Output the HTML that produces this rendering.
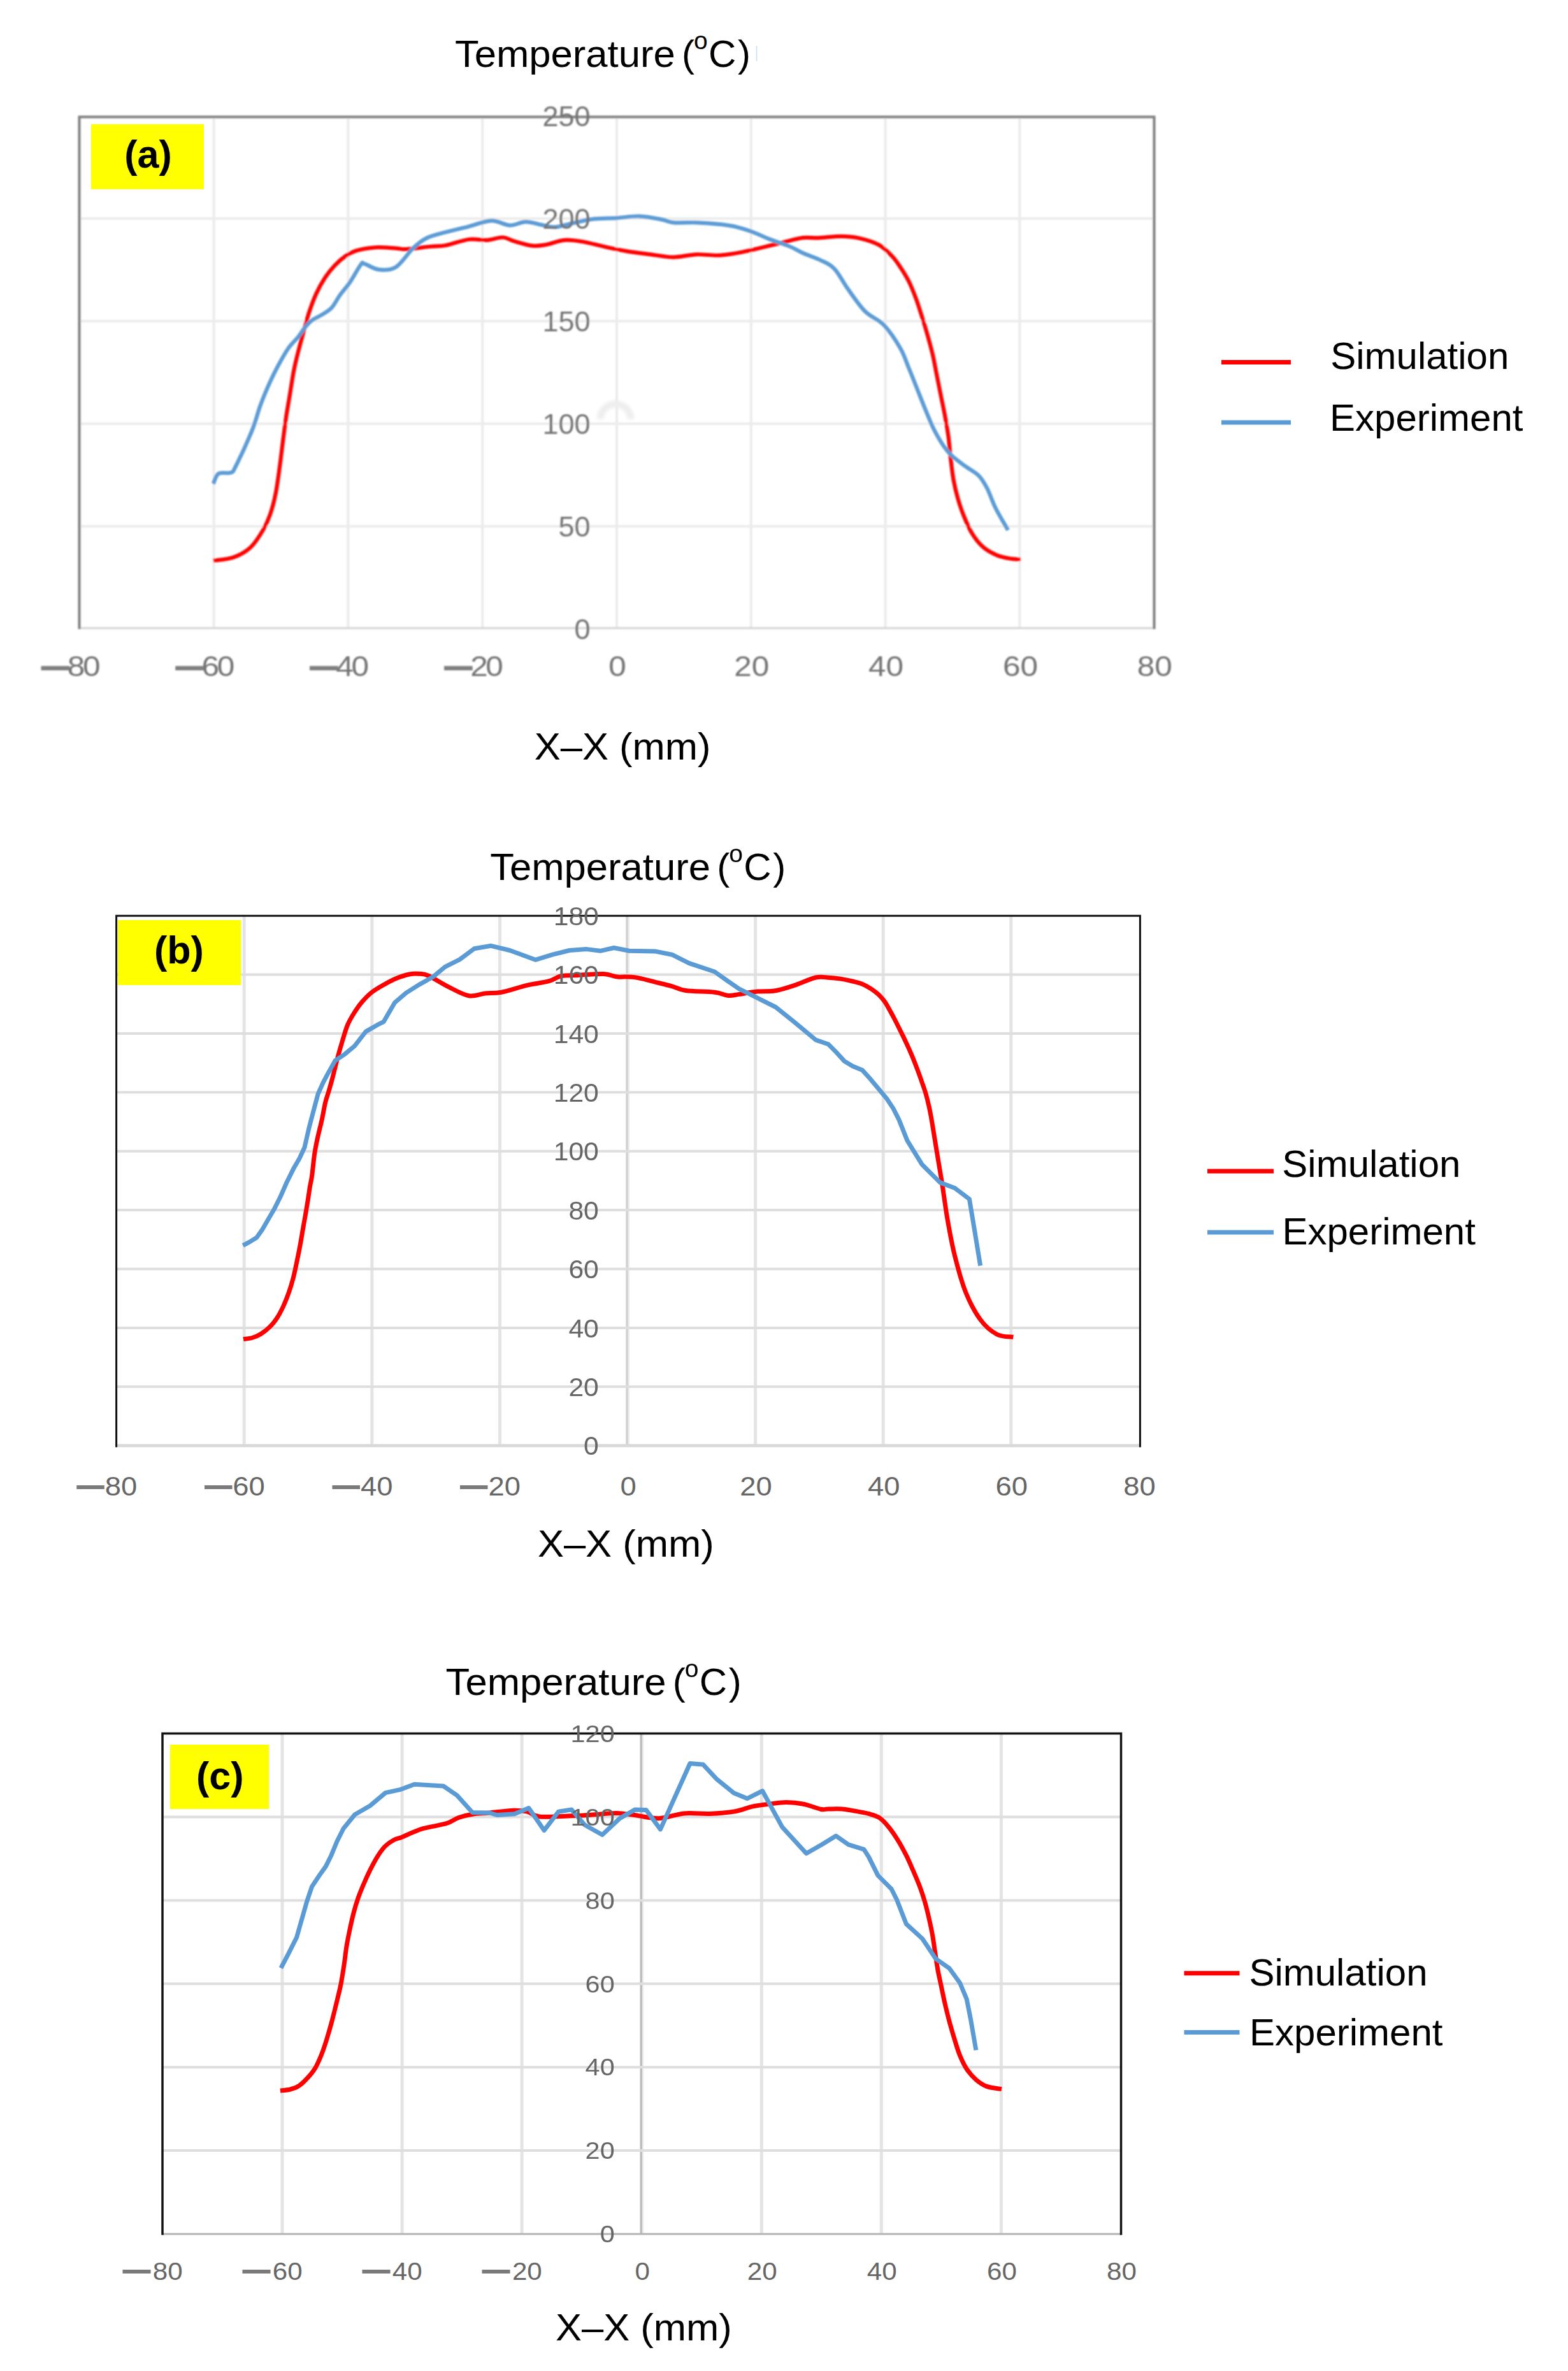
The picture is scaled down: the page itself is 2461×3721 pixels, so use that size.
<!DOCTYPE html>
<html><head><meta charset="utf-8"><title>Temperature profiles: simulation vs experiment</title>
<style>
html,body{margin:0;padding:0;background:#fff;}
body{width:2461px;height:3721px;overflow:hidden;}
svg{display:block;}
</style></head>
<body>
<svg width="2461" height="3721" viewBox="0 0 2461 3721">
<defs><filter id="bl" x="-5%" y="-5%" width="110%" height="110%"><feGaussianBlur stdDeviation="1.0"/></filter><filter id="bl2" x="-50%" y="-50%" width="200%" height="200%"><feGaussianBlur stdDeviation="2.5"/></filter></defs>
<rect width="2461" height="3721" fill="#ffffff"/>
<g filter="url(#bl)">
<path d="M335.6,183.5V985.8M546.4,183.5V985.8M757.2,183.5V985.8M968.0,183.5V985.8M1178.8,183.5V985.8M1389.6,183.5V985.8M1600.4,183.5V985.8" stroke="#ebebeb" stroke-width="4" fill="none"/>
<path d="M124.5,826.0H1811.5M124.5,665.0H1811.5M124.5,504.0H1811.5M124.5,343.0H1811.5" stroke="#ececec" stroke-width="4" fill="none"/>
<path d="M124.5,985.8H1811.5" stroke="#d4d4d4" stroke-width="3" fill="none"/>
<path d="M124.5,987.3V183.5H1811.5V987.3" stroke="#7f7f7f" stroke-width="4" fill="none"/>
<path d="M334.8,879.9 C340.2,879.0 357.2,878.1 367.0,874.5 C376.8,870.9 386.2,865.5 393.8,858.4 C401.4,851.3 407.9,840.3 412.9,831.8 C417.9,823.3 420.6,817.1 423.9,807.6 C427.2,798.1 430.1,787.5 432.6,774.7 C435.2,761.9 437.2,745.5 439.2,730.9 C441.2,716.3 443.0,699.8 444.7,687.0 C446.4,674.2 447.5,665.1 449.1,654.1 C450.8,643.1 452.6,633.2 454.6,621.2 C456.6,609.2 458.9,593.1 461.1,581.8 C463.3,570.5 465.1,563.4 467.7,553.2 C470.3,543.0 473.6,531.0 476.5,520.4 C479.4,509.8 482.0,499.5 485.3,489.6 C488.6,479.7 492.2,469.9 496.2,461.1 C500.2,452.3 504.6,444.3 509.4,437.0 C514.1,429.7 519.2,423.2 524.7,417.3 C530.2,411.4 536.4,405.9 542.3,401.9 C548.1,397.9 552.0,395.5 559.8,393.2 C567.6,390.9 579.0,388.9 589.3,388.3 C599.6,387.7 613.5,389.2 621.5,389.6 C629.5,390.1 628.6,391.4 637.5,391.0 C646.4,390.6 664.6,388.0 675.0,387.0 C685.4,386.0 689.9,386.9 700.0,385.0 C710.1,383.1 725.0,377.1 735.7,375.7 C746.4,374.3 755.4,377.3 764.3,376.8 C773.2,376.3 782.2,372.2 789.3,372.5 C796.4,372.8 799.3,376.4 807.0,378.6 C814.7,380.8 827.4,384.8 835.7,385.7 C844.0,386.6 848.7,385.5 857.0,384.0 C865.3,382.5 876.2,377.6 885.7,376.8 C895.2,376.0 903.6,377.5 914.3,379.3 C925.0,381.1 938.1,384.9 950.0,387.5 C961.9,390.1 973.8,392.6 985.7,394.6 C997.6,396.6 1009.5,397.8 1021.4,399.3 C1033.3,400.8 1045.1,403.6 1057.0,403.6 C1068.9,403.6 1081.0,399.8 1092.9,399.3 C1104.8,398.8 1116.7,401.3 1128.6,400.7 C1140.5,400.1 1152.4,397.9 1164.3,395.7 C1176.2,393.5 1189.3,390.1 1200.0,387.5 C1210.7,384.9 1218.6,382.8 1228.6,380.4 C1238.6,378.0 1250.6,374.4 1260.0,373.2 C1269.4,372.0 1274.9,373.7 1285.0,373.3 C1295.1,372.9 1310.0,370.8 1320.4,370.9 C1330.8,370.9 1337.4,371.4 1347.2,373.6 C1357.0,375.8 1370.5,379.6 1379.3,384.3 C1388.1,389.0 1394.3,396.0 1400.0,401.9 C1405.7,407.8 1408.8,412.9 1413.2,419.5 C1417.6,426.1 1422.3,433.4 1426.3,441.4 C1430.3,449.4 1434.0,458.9 1437.3,467.7 C1440.6,476.5 1443.2,485.0 1446.1,494.1 C1449.0,503.2 1451.9,512.4 1454.8,522.6 C1457.7,532.8 1461.0,544.5 1463.6,555.5 C1466.2,566.5 1468.0,577.4 1470.2,588.4 C1472.4,599.4 1474.6,610.3 1476.8,621.3 C1479.0,632.3 1481.4,643.2 1483.4,654.2 C1485.4,665.2 1487.3,676.1 1488.8,687.1 C1490.2,698.1 1490.8,709.0 1492.1,720.0 C1493.4,731.0 1494.7,742.7 1496.5,752.9 C1498.3,763.1 1500.5,772.3 1503.1,781.4 C1505.7,790.5 1508.2,798.6 1511.9,807.7 C1515.6,816.8 1519.9,827.8 1525.0,836.2 C1530.1,844.6 1536.0,852.4 1542.6,858.2 C1549.2,864.1 1557.2,868.2 1564.5,871.3 C1571.8,874.4 1580.2,875.7 1586.4,876.8 C1592.6,877.9 1599.2,877.7 1601.8,877.9" stroke="#ff0000" stroke-width="6.2" fill="none" stroke-linejoin="round"/>
<path d="M334.8,759.3 C336.1,756.6 338.4,746.2 342.9,743.3 C347.4,740.4 357.2,743.7 361.6,741.9 C366.1,740.1 364.0,743.5 369.6,732.5 C375.2,721.5 388.9,692.0 395.4,676.0 C401.9,660.0 403.8,649.4 408.5,636.6 C413.2,623.8 419.1,609.9 423.9,599.3 C428.6,588.7 432.2,581.8 437.0,573.0 C441.8,564.2 447.3,554.0 452.4,546.7 C457.5,539.4 463.3,534.6 467.7,529.1 C472.1,523.6 475.0,518.2 478.7,513.8 C482.4,509.4 485.2,506.1 489.6,502.8 C494.0,499.5 499.9,497.3 505.0,494.0 C510.1,490.7 515.6,488.2 520.4,483.1 C525.1,478.0 528.8,469.9 533.5,463.3 C538.2,456.7 543.4,451.6 548.9,443.6 C554.4,435.6 562.5,420.0 566.4,415.1 C570.2,410.2 567.3,412.7 572.0,414.0 C576.7,415.3 586.5,422.2 594.7,423.1 C603.0,424.0 612.6,424.7 621.5,419.1 C630.4,413.5 640.3,397.2 648.3,389.6 C656.3,382.0 661.1,377.8 669.7,373.6 C678.3,369.4 689.0,367.3 700.0,364.3 C711.0,361.3 723.8,358.4 735.7,355.4 C747.6,352.4 760.7,346.7 771.4,346.4 C782.1,346.1 791.1,353.3 800.0,353.6 C808.9,353.9 816.7,348.3 825.0,348.2 C833.3,348.1 842.3,351.5 850.0,352.9 C857.7,354.3 863.1,356.9 871.4,356.4 C879.7,355.9 889.9,352.1 900.0,350.0 C910.1,347.9 920.7,344.9 932.0,343.6 C943.3,342.3 956.0,342.8 967.9,342.1 C979.8,341.4 991.7,338.9 1003.6,339.3 C1015.5,339.7 1030.4,342.9 1039.3,344.6 C1048.2,346.3 1048.1,348.5 1057.0,349.3 C1065.9,350.1 1081.0,348.9 1092.9,349.3 C1104.8,349.7 1117.9,350.6 1128.6,351.8 C1139.3,353.0 1148.1,354.3 1157.0,356.4 C1165.9,358.5 1173.7,361.2 1182.0,364.3 C1190.3,367.4 1197.3,371.2 1207.0,375.0 C1216.7,378.8 1230.9,383.2 1240.0,387.0 C1249.1,390.8 1253.4,394.1 1261.4,397.7 C1269.4,401.3 1280.2,404.4 1288.2,408.4 C1296.2,412.4 1302.4,414.2 1309.6,421.8 C1316.8,429.4 1323.0,442.7 1331.1,453.9 C1339.1,465.1 1348.5,479.4 1357.9,488.8 C1367.3,498.2 1378.1,500.5 1387.3,510.2 C1396.5,519.9 1406.7,535.5 1413.2,546.7 C1419.7,557.9 1421.9,566.8 1426.3,577.4 C1430.7,588.0 1435.1,599.3 1439.5,610.3 C1443.9,621.3 1448.2,632.6 1452.6,643.2 C1457.0,653.8 1461.0,664.4 1465.8,673.9 C1470.6,683.4 1476.5,693.2 1481.2,700.2 C1486.0,707.2 1488.8,710.5 1494.3,715.6 C1499.8,720.7 1507.1,725.9 1514.1,731.0 C1521.0,736.1 1530.2,740.4 1536.0,746.3 C1541.8,752.1 1544.8,757.7 1549.2,766.1 C1553.6,774.5 1556.8,785.8 1562.3,796.8 C1567.8,807.8 1578.8,826.0 1582.1,831.9" stroke="#5b9bd5" stroke-width="6.2" fill="none" stroke-linejoin="round"/>
<g font-family="'Liberation Sans', Arial, sans-serif">
<text transform="translate(926.5,1002.6) scale(1.0,1)" font-size="45" text-anchor="end" fill="#737373">0</text>
<text transform="translate(926.5,841.6) scale(1.0,1)" font-size="45" text-anchor="end" fill="#737373">50</text>
<text transform="translate(926.5,680.6) scale(1.0,1)" font-size="45" text-anchor="end" fill="#737373">100</text>
<text transform="translate(926.5,519.6) scale(1.0,1)" font-size="45" text-anchor="end" fill="#737373">150</text>
<text transform="translate(926.5,358.6) scale(1.0,1)" font-size="45" text-anchor="end" fill="#737373">200</text>
<text transform="translate(926.5,197.6) scale(1.0,1)" font-size="45" text-anchor="end" fill="#737373">250</text>
<text transform="translate(154.2,1060.5) scale(1.1,1)" font-size="45" letter-spacing="-3" text-anchor="end" fill="#737373">80</text>
<text x="64.5" y="1073.5" font-size="100" fill="#7f7f7f" textLength="44.7" lengthAdjust="spacingAndGlyphs">—</text>
<text transform="translate(364.9,1060.5) scale(1.1,1)" font-size="45" letter-spacing="-3" text-anchor="end" fill="#737373">60</text>
<text x="275.3" y="1073.5" font-size="100" fill="#7f7f7f" textLength="44.7" lengthAdjust="spacingAndGlyphs">—</text>
<text transform="translate(575.8,1060.5) scale(1.1,1)" font-size="45" letter-spacing="-3" text-anchor="end" fill="#737373">40</text>
<text x="486.1" y="1073.5" font-size="100" fill="#7f7f7f" textLength="44.7" lengthAdjust="spacingAndGlyphs">—</text>
<text transform="translate(786.6,1060.5) scale(1.1,1)" font-size="45" letter-spacing="-3" text-anchor="end" fill="#737373">20</text>
<text x="696.9" y="1073.5" font-size="100" fill="#7f7f7f" textLength="44.7" lengthAdjust="spacingAndGlyphs">—</text>
<text transform="translate(969.0,1060.5) scale(1.1,1)" font-size="45" text-anchor="middle" fill="#737373">0</text>
<text transform="translate(1179.8,1060.5) scale(1.1,1)" font-size="45" text-anchor="middle" fill="#737373">20</text>
<text transform="translate(1390.6,1060.5) scale(1.1,1)" font-size="45" text-anchor="middle" fill="#737373">40</text>
<text transform="translate(1601.4,1060.5) scale(1.1,1)" font-size="45" text-anchor="middle" fill="#737373">60</text>
<text transform="translate(1812.2,1060.5) scale(1.1,1)" font-size="45" text-anchor="middle" fill="#737373">80</text>
</g>
</g>
<rect x="143" y="195" width="177" height="102" fill="#ffff00"/>
<text x="195.2" y="263.4" font-family="'Liberation Sans', Arial, sans-serif" font-weight="bold" font-size="61" fill="#000">(a)</text>
<g font-family="'Liberation Sans', Arial, sans-serif" font-size="60" fill="#000">
<text transform="translate(713.9,104.6) scale(1.027,1)">Temperature</text>
<text x="1070.0" y="104.6">(</text>
<text x="1089.0" y="77.0" font-size="39">o</text>
<text x="1112.0" y="104.8">C</text>
<text x="1158.0" y="104.6">)</text>
<text transform="translate(838.8,1191.9) scale(1.025,1)">X–X (mm)</text>
<path d="M1917,568.5H2026" stroke="#ff0000" stroke-width="7"/>
<path d="M1917,663H2026" stroke="#5b9bd5" stroke-width="7"/>
<text x="2088.2" y="578.9">Simulation</text>
<text x="2087" y="676">Experiment</text>
</g>
<g>
<path d="M383.2,1437.3V2268.7M583.8,1437.3V2268.7M784.4,1437.3V2268.7M1185.6,1437.3V2268.7M1386.2,1437.3V2268.7M1586.8,1437.3V2268.7" stroke="#e4e4e4" stroke-width="5" fill="none"/>
<path d="M986.5,1437.3V2268.7" stroke="#ececec" stroke-width="3" fill="none"/>
<path d="M984.0,1437.3V2268.7" stroke="#d2d2d2" stroke-width="3.5" fill="none"/>
<path d="M182.6,2176.3H1789.4M182.6,2083.9H1789.4M182.6,1991.5H1789.4M182.6,1899.1H1789.4M182.6,1806.7H1789.4M182.6,1714.3H1789.4M182.6,1621.9H1789.4M182.6,1529.5H1789.4" stroke="#dedede" stroke-width="4" fill="none"/>
<path d="M182.6,2268.7H1789.4" stroke="#d9d9d9" stroke-width="5" fill="none"/>
<path d="M182.6,2271.2V1437.3H1789.4V2271.2" stroke="#111111" stroke-width="3" fill="none"/>
<path d="M382.0,2101.6 C384.3,2101.2 391.3,2100.9 395.9,2099.5 C400.5,2098.1 405.2,2096.1 409.8,2093.2 C414.4,2090.3 419.5,2086.3 423.7,2082.1 C427.9,2077.9 431.4,2073.5 434.9,2068.2 C438.4,2062.9 441.6,2056.6 444.6,2050.1 C447.6,2043.6 450.4,2036.4 453.0,2029.2 C455.6,2022.0 457.8,2014.8 459.9,2006.9 C462.0,1999.0 463.6,1990.7 465.5,1981.9 C467.4,1973.1 469.4,1963.3 471.1,1954.0 C472.8,1944.7 474.5,1934.2 475.9,1926.2 C477.3,1918.2 478.3,1912.9 479.5,1906.0 C480.7,1899.1 481.8,1892.3 483.0,1885.0 C484.2,1877.7 485.4,1868.5 486.5,1862.0 C487.6,1855.5 488.3,1854.3 489.5,1846.0 C490.7,1837.7 492.3,1820.5 493.5,1812.0 C494.7,1803.5 495.4,1800.6 496.5,1795.0 C497.6,1789.4 498.6,1785.0 500.1,1778.6 C501.6,1772.2 503.6,1764.5 505.4,1756.4 C507.2,1748.3 508.9,1737.3 510.7,1729.9 C512.5,1722.5 514.2,1718.8 516.1,1712.1 C518.0,1705.4 520.0,1698.8 522.3,1690.0 C524.6,1681.2 527.4,1669.2 530.0,1659.4 C532.6,1649.7 535.4,1640.0 538.0,1631.5 C540.6,1623.0 542.7,1615.5 545.5,1608.7 C548.3,1602.0 551.3,1596.9 555.0,1591.0 C558.7,1585.1 562.9,1578.8 567.5,1573.3 C572.1,1567.8 576.7,1562.8 582.5,1558.1 C588.3,1553.4 595.8,1549.2 602.5,1545.4 C609.2,1541.6 615.8,1538.0 622.5,1535.3 C629.2,1532.6 636.6,1530.2 642.5,1529.0 C648.4,1527.8 652.6,1527.8 657.7,1528.2 C662.8,1528.6 665.1,1528.0 672.9,1531.5 C680.6,1535.0 693.7,1543.7 704.2,1548.9 C714.7,1554.1 726.2,1561.0 735.8,1562.7 C745.4,1564.4 753.1,1559.9 761.6,1559.0 C770.1,1558.1 775.9,1559.3 786.8,1557.2 C797.7,1555.1 814.5,1549.3 827.0,1546.4 C839.5,1543.5 852.9,1542.2 861.8,1539.7 C870.7,1537.2 872.9,1533.2 880.5,1531.7 C888.1,1530.2 896.1,1530.9 907.3,1530.4 C918.5,1529.9 937.2,1528.1 947.5,1528.5 C957.8,1528.9 961.0,1532.2 969.0,1533.0 C977.0,1533.8 985.9,1532.2 995.7,1533.6 C1005.5,1534.9 1018.1,1538.7 1027.9,1541.1 C1037.7,1543.5 1046.7,1545.6 1054.7,1547.8 C1062.7,1550.0 1064.9,1552.9 1076.1,1554.5 C1087.2,1556.1 1110.4,1555.9 1121.6,1557.2 C1132.8,1558.5 1136.7,1562.0 1143.1,1562.5 C1149.5,1563.0 1152.4,1561.5 1160.0,1560.4 C1167.6,1559.3 1179.1,1557.0 1188.7,1556.1 C1198.3,1555.1 1207.8,1556.3 1217.4,1554.7 C1227.0,1553.1 1235.6,1550.0 1246.1,1546.6 C1256.6,1543.1 1271.5,1536.1 1280.5,1534.0 C1289.5,1531.9 1293.6,1533.9 1300.0,1534.2 C1306.4,1534.5 1312.7,1535.1 1319.1,1536.1 C1325.5,1537.1 1332.5,1538.6 1338.3,1540.0 C1344.0,1541.4 1348.7,1542.4 1353.6,1544.4 C1358.5,1546.4 1363.3,1549.3 1367.6,1552.1 C1371.8,1554.9 1375.7,1557.8 1379.1,1561.0 C1382.5,1564.2 1385.2,1567.4 1388.0,1571.2 C1390.8,1575.0 1393.2,1579.5 1395.7,1584.0 C1398.2,1588.5 1400.8,1593.1 1403.3,1598.0 C1405.8,1602.9 1408.5,1608.2 1411.0,1613.3 C1413.5,1618.4 1416.0,1623.3 1418.6,1628.6 C1421.1,1633.9 1423.8,1639.5 1426.3,1645.2 C1428.8,1651.0 1431.6,1657.4 1433.9,1663.1 C1436.2,1668.8 1438.2,1673.9 1440.3,1679.6 C1442.4,1685.3 1444.6,1691.3 1446.7,1697.5 C1448.8,1703.7 1451.2,1710.0 1453.1,1716.6 C1455.0,1723.2 1456.6,1729.8 1458.2,1737.0 C1459.8,1744.2 1460.7,1748.8 1462.6,1760.0 C1464.5,1771.2 1467.2,1788.2 1469.8,1804.2 C1472.4,1820.2 1475.5,1837.7 1478.4,1855.9 C1481.3,1874.1 1483.7,1894.1 1487.0,1913.2 C1490.3,1932.3 1493.7,1951.5 1498.5,1970.6 C1503.3,1989.7 1509.0,2011.3 1515.7,2028.0 C1522.4,2044.7 1530.6,2060.0 1538.7,2071.0 C1546.8,2082.0 1555.9,2089.4 1564.5,2094.0 C1573.1,2098.6 1586.0,2097.6 1590.3,2098.3" stroke="#ff0000" stroke-width="7" fill="none" stroke-linejoin="round"/>
<path d="M381.3,1954.7 L391.7,1949.1 L402.8,1942.2 L411.2,1930.4 L420.9,1913.7 L430.7,1896.9 L440.4,1877.5 L450.2,1855.2 L461.3,1832.9 L470.0,1818.0 L478.0,1800.7 L485.1,1769.7 L492.1,1743.1 L499.2,1716.6 L507.2,1698.9 L513.4,1687.2 L526.1,1664.4 L541.3,1654.3 L556.5,1641.6 L574.2,1618.9 L591.9,1608.7 L602.0,1603.7 L619.7,1573.3 L637.5,1558.1 L657.7,1545.4 L680.0,1532.8 L698.5,1517.4 L721.4,1505.9 L744.4,1488.7 L770.7,1484.3 L800.2,1491.5 L840.4,1506.3 L867.2,1498.2 L893.9,1491.5 L920.7,1489.6 L942.2,1492.3 L963.6,1487.5 L987.7,1492.3 L1027.9,1492.9 L1054.7,1498.2 L1081.5,1511.6 L1121.6,1525.0 L1140.4,1538.4 L1160.0,1551.8 L1188.7,1566.1 L1217.4,1580.5 L1246.1,1603.4 L1280.5,1632.1 L1300.0,1638.8 L1312.8,1651.6 L1325.5,1665.6 L1338.3,1673.3 L1353.6,1679.6 L1366.3,1693.7 L1379.1,1709.0 L1391.8,1724.3 L1402.0,1739.6 L1411.0,1757.4 L1423.9,1789.9 L1446.9,1827.2 L1475.5,1855.9 L1498.5,1864.5 L1521.4,1881.7 L1530.0,1933.3 L1538.7,1986.4" stroke="#5b9bd5" stroke-width="7" fill="none" stroke-linejoin="round"/>
<g font-family="'Liberation Sans', Arial, sans-serif">
<text transform="translate(939.8,2283.4) scale(1.04,1)" font-size="41" text-anchor="end" fill="#666666">0</text>
<text transform="translate(939.8,2191.0) scale(1.04,1)" font-size="41" text-anchor="end" fill="#666666">20</text>
<text transform="translate(939.8,2098.6) scale(1.04,1)" font-size="41" text-anchor="end" fill="#666666">40</text>
<text transform="translate(939.8,2006.2) scale(1.04,1)" font-size="41" text-anchor="end" fill="#666666">60</text>
<text transform="translate(939.8,1913.8) scale(1.04,1)" font-size="41" text-anchor="end" fill="#666666">80</text>
<text transform="translate(939.8,1821.4) scale(1.04,1)" font-size="41" text-anchor="end" fill="#666666">100</text>
<text transform="translate(939.8,1729.0) scale(1.04,1)" font-size="41" text-anchor="end" fill="#666666">120</text>
<text transform="translate(939.8,1636.6) scale(1.04,1)" font-size="41" text-anchor="end" fill="#666666">140</text>
<text transform="translate(939.8,1544.2) scale(1.04,1)" font-size="41" text-anchor="end" fill="#666666">160</text>
<text transform="translate(939.8,1451.8) scale(1.04,1)" font-size="41" text-anchor="end" fill="#666666">180</text>
<text transform="translate(215.2,2347.0) scale(1.08,1)" font-size="42" text-anchor="end" fill="#666666">80</text>
<text x="120.3" y="2356.6" font-size="90" fill="#7a7a7a" textLength="43.5" lengthAdjust="spacingAndGlyphs">—</text>
<text transform="translate(415.8,2347.0) scale(1.08,1)" font-size="42" text-anchor="end" fill="#666666">60</text>
<text x="320.9" y="2356.6" font-size="90" fill="#7a7a7a" textLength="43.5" lengthAdjust="spacingAndGlyphs">—</text>
<text transform="translate(616.4,2347.0) scale(1.08,1)" font-size="42" text-anchor="end" fill="#666666">40</text>
<text x="521.5" y="2356.6" font-size="90" fill="#7a7a7a" textLength="43.5" lengthAdjust="spacingAndGlyphs">—</text>
<text transform="translate(817.0,2347.0) scale(1.08,1)" font-size="42" text-anchor="end" fill="#666666">20</text>
<text x="722.1" y="2356.6" font-size="90" fill="#7a7a7a" textLength="43.5" lengthAdjust="spacingAndGlyphs">—</text>
<text transform="translate(986.0,2347.0) scale(1.08,1)" font-size="42" text-anchor="middle" fill="#666666">0</text>
<text transform="translate(1186.6,2347.0) scale(1.08,1)" font-size="42" text-anchor="middle" fill="#666666">20</text>
<text transform="translate(1387.2,2347.0) scale(1.08,1)" font-size="42" text-anchor="middle" fill="#666666">40</text>
<text transform="translate(1587.8,2347.0) scale(1.08,1)" font-size="42" text-anchor="middle" fill="#666666">60</text>
<text transform="translate(1788.4,2347.0) scale(1.08,1)" font-size="42" text-anchor="middle" fill="#666666">80</text>
</g>
</g>
<rect x="185" y="1444" width="193" height="102" fill="#ffff00"/>
<text x="242" y="1511.6" font-family="'Liberation Sans', Arial, sans-serif" font-weight="bold" font-size="61" fill="#000">(b)</text>
<g font-family="'Liberation Sans', Arial, sans-serif" font-size="60" fill="#000">
<text transform="translate(769.2,1381.0) scale(1.027,1)">Temperature</text>
<text x="1125.3" y="1381.0">(</text>
<text x="1144.3" y="1353.4" font-size="39">o</text>
<text x="1167.3" y="1381.2">C</text>
<text x="1213.3" y="1381.0">)</text>
<text transform="translate(843.9,2443.3) scale(1.025,1)">X–X (mm)</text>
<path d="M1895,1838H1999" stroke="#ff0000" stroke-width="7"/>
<path d="M1895,1934H1999" stroke="#5b9bd5" stroke-width="7"/>
<text x="2012.3" y="1846.6">Simulation</text>
<text x="2012.4" y="1953.1">Experiment</text>
</g>
<g>
<path d="M443.0,2720.6V3506.0M631.1,2720.6V3506.0M819.1,2720.6V3506.0M1195.3,2720.6V3506.0M1383.3,2720.6V3506.0M1571.4,2720.6V3506.0" stroke="#e4e4e4" stroke-width="5" fill="none"/>
<path d="M1008.7,2720.6V3506.0" stroke="#ececec" stroke-width="3" fill="none"/>
<path d="M1006.2,2720.6V3506.0" stroke="#bdbdbd" stroke-width="3.5" fill="none"/>
<path d="M255.0,3375.1H1759.5M255.0,3244.2H1759.5M255.0,3113.3H1759.5M255.0,2982.4H1759.5M255.0,2851.5H1759.5" stroke="#dedede" stroke-width="4" fill="none"/>
<path d="M255.0,3506.0H1759.5" stroke="#b4b4b4" stroke-width="3" fill="none"/>
<path d="M255.0,3507.5V2720.6H1759.5V3507.5" stroke="#111111" stroke-width="3.5" fill="none"/>
<path d="M439.9,3281.0 C442.5,3280.7 450.8,3280.3 455.8,3279.0 C460.8,3277.7 465.1,3276.2 469.7,3273.1 C474.3,3270.0 479.2,3265.0 483.5,3260.2 C487.8,3255.4 491.8,3250.7 495.4,3244.4 C499.0,3238.1 502.3,3230.1 505.3,3222.5 C508.3,3214.9 510.6,3207.4 513.3,3198.8 C515.9,3190.2 518.6,3180.9 521.2,3171.0 C523.8,3161.1 526.8,3148.9 529.1,3139.3 C531.4,3129.7 533.3,3122.8 535.1,3113.5 C536.9,3104.2 538.5,3093.7 540.0,3083.8 C541.5,3073.9 542.5,3063.2 544.0,3054.0 C545.5,3044.8 547.2,3036.9 549.0,3028.3 C550.8,3019.7 552.8,3010.6 554.9,3002.5 C557.0,2994.4 559.2,2987.0 561.8,2979.5 C564.4,2972.0 567.4,2964.9 570.5,2957.5 C573.6,2950.1 577.0,2942.5 580.7,2935.1 C584.4,2927.7 588.6,2919.6 592.6,2913.3 C596.6,2907.0 600.2,2901.7 604.5,2897.4 C608.8,2893.1 614.0,2889.8 618.3,2887.5 C622.6,2885.2 625.2,2885.5 630.2,2883.5 C635.2,2881.5 642.5,2877.9 648.1,2875.6 C653.7,2873.3 657.3,2871.5 663.9,2869.7 C670.5,2867.9 681.2,2866.1 687.9,2864.6 C694.6,2863.1 698.6,2862.5 704.0,2860.5 C709.4,2858.5 713.8,2854.7 720.0,2852.5 C726.2,2850.3 733.5,2848.4 741.5,2847.2 C749.5,2845.9 757.6,2846.0 768.3,2845.0 C779.0,2844.0 796.0,2841.6 805.8,2841.3 C815.6,2841.0 820.4,2841.5 827.2,2843.1 C834.0,2844.7 836.8,2849.8 846.8,2851.0 C856.8,2852.2 873.6,2850.6 887.0,2850.2 C900.4,2849.8 913.8,2849.1 927.2,2848.3 C940.6,2847.5 956.1,2845.6 967.3,2845.6 C978.4,2845.6 982.9,2847.0 994.1,2848.3 C1005.3,2849.7 1021.0,2854.1 1034.3,2853.7 C1047.5,2853.3 1060.3,2847.1 1073.6,2845.9 C1086.8,2844.7 1100.4,2846.9 1113.8,2846.4 C1127.2,2845.9 1142.8,2844.6 1153.9,2842.7 C1165.1,2840.8 1171.8,2837.1 1180.7,2835.2 C1189.6,2833.3 1198.6,2832.3 1207.5,2831.2 C1216.4,2830.1 1225.4,2828.5 1234.3,2828.5 C1243.2,2828.5 1252.2,2829.4 1261.1,2831.2 C1270.0,2833.0 1281.4,2837.9 1287.9,2839.2 C1294.4,2840.5 1294.5,2839.0 1300.0,2839.0 C1305.5,2839.0 1314.1,2838.5 1321.1,2839.0 C1328.1,2839.5 1335.2,2841.0 1342.2,2842.2 C1349.2,2843.4 1357.0,2844.7 1363.3,2846.4 C1369.6,2848.2 1374.8,2849.2 1380.1,2852.7 C1385.4,2856.2 1390.0,2861.5 1394.9,2867.5 C1399.8,2873.5 1405.0,2881.2 1409.6,2888.6 C1414.2,2896.0 1418.4,2904.0 1422.3,2911.7 C1426.2,2919.4 1429.3,2926.8 1432.8,2934.9 C1436.3,2943.0 1440.2,2951.8 1443.4,2960.2 C1446.6,2968.6 1449.3,2977.1 1451.8,2985.5 C1454.2,2993.9 1456.2,3002.4 1458.1,3010.8 C1460.0,3019.2 1461.8,3027.3 1463.4,3036.1 C1465.0,3044.9 1466.2,3054.3 1467.6,3063.5 C1469.0,3072.7 1470.2,3082.2 1471.8,3091.0 C1473.4,3099.8 1475.2,3107.2 1477.1,3116.3 C1479.0,3125.4 1481.1,3136.0 1483.4,3145.8 C1485.7,3155.6 1488.3,3166.2 1490.8,3175.3 C1493.3,3184.4 1495.6,3192.2 1498.2,3200.6 C1500.8,3209.0 1503.4,3218.2 1506.6,3225.9 C1509.8,3233.6 1513.0,3240.7 1517.2,3247.0 C1521.4,3253.3 1526.6,3259.2 1531.9,3263.8 C1537.2,3268.4 1542.1,3271.9 1548.8,3274.4 C1555.5,3276.9 1568.1,3277.9 1572.0,3278.6" stroke="#ff0000" stroke-width="7" fill="none" stroke-linejoin="round"/>
<path d="M440.9,3088.7 L451.8,3067.9 L465.7,3040.2 L473.6,3012.4 L481.5,2984.6 L489.5,2960.9 L501.4,2943.0 L511.3,2929.1 L519.2,2913.3 L529.1,2889.5 L539.0,2869.7 L556.9,2847.8 L580.7,2834.0 L604.8,2813.7 L628.9,2808.3 L650.4,2800.3 L695.9,2803.0 L717.3,2817.7 L741.5,2844.5 L768.3,2845.0 L780.0,2848.5 L807.5,2846.7 L829.9,2837.5 L854.0,2872.6 L876.4,2843.3 L897.1,2839.9 L917.7,2864.0 L945.3,2879.5 L972.8,2853.6 L996.9,2839.9 L1014.2,2840.6 L1036.5,2870.9 L1083.0,2767.5 L1103.7,2769.3 L1124.4,2791.7 L1151.9,2814.0 L1172.6,2822.6 L1196.7,2810.6 L1227.7,2867.4 L1265.5,2908.7 L1289.6,2895.0 L1312.0,2881.2 L1331.6,2894.9 L1355.9,2902.3 L1363.3,2913.9 L1378.0,2943.4 L1399.1,2964.5 L1407.5,2981.3 L1422.3,3019.3 L1447.6,3042.5 L1468.7,3074.1 L1489.8,3088.8 L1506.6,3112.0 L1517.2,3137.3 L1523.5,3169.0 L1531.9,3217.5" stroke="#5b9bd5" stroke-width="7" fill="none" stroke-linejoin="round"/>
<g font-family="'Liberation Sans', Arial, sans-serif">
<text transform="translate(964.7,3519.2) scale(1.12,1)" font-size="37" text-anchor="end" fill="#666666">0</text>
<text transform="translate(964.7,3388.3) scale(1.12,1)" font-size="37" text-anchor="end" fill="#666666">20</text>
<text transform="translate(964.7,3257.4) scale(1.12,1)" font-size="37" text-anchor="end" fill="#666666">40</text>
<text transform="translate(964.7,3126.5) scale(1.12,1)" font-size="37" text-anchor="end" fill="#666666">60</text>
<text transform="translate(964.7,2995.6) scale(1.12,1)" font-size="37" text-anchor="end" fill="#666666">80</text>
<text transform="translate(964.7,2864.7) scale(1.12,1)" font-size="37" text-anchor="end" fill="#666666">100</text>
<text transform="translate(964.7,2733.8) scale(1.12,1)" font-size="37" text-anchor="end" fill="#666666">120</text>
<text transform="translate(286.6,3577.6) scale(1.09,1)" font-size="38.7" text-anchor="end" fill="#666666">80</text>
<text x="192.5" y="3587.8" font-size="90" fill="#7a7a7a" textLength="44.0" lengthAdjust="spacingAndGlyphs">—</text>
<text transform="translate(474.7,3577.6) scale(1.09,1)" font-size="38.7" text-anchor="end" fill="#666666">60</text>
<text x="380.5" y="3587.8" font-size="90" fill="#7a7a7a" textLength="44.0" lengthAdjust="spacingAndGlyphs">—</text>
<text transform="translate(662.7,3577.6) scale(1.09,1)" font-size="38.7" text-anchor="end" fill="#666666">40</text>
<text x="568.6" y="3587.8" font-size="90" fill="#7a7a7a" textLength="44.0" lengthAdjust="spacingAndGlyphs">—</text>
<text transform="translate(850.8,3577.6) scale(1.09,1)" font-size="38.7" text-anchor="end" fill="#666666">20</text>
<text x="756.6" y="3587.8" font-size="90" fill="#7a7a7a" textLength="44.0" lengthAdjust="spacingAndGlyphs">—</text>
<text transform="translate(1008.2,3577.6) scale(1.09,1)" font-size="38.7" text-anchor="middle" fill="#666666">0</text>
<text transform="translate(1196.3,3577.6) scale(1.09,1)" font-size="38.7" text-anchor="middle" fill="#666666">20</text>
<text transform="translate(1384.3,3577.6) scale(1.09,1)" font-size="38.7" text-anchor="middle" fill="#666666">40</text>
<text transform="translate(1572.4,3577.6) scale(1.09,1)" font-size="38.7" text-anchor="middle" fill="#666666">60</text>
<text transform="translate(1760.4,3577.6) scale(1.09,1)" font-size="38.7" text-anchor="middle" fill="#666666">80</text>
</g>
</g>
<rect x="267" y="2738" width="155" height="101" fill="#ffff00"/>
<text x="308" y="2808.2" font-family="'Liberation Sans', Arial, sans-serif" font-weight="bold" font-size="61" fill="#000">(c)</text>
<g font-family="'Liberation Sans', Arial, sans-serif" font-size="60" fill="#000">
<text transform="translate(699.6,2659.9) scale(1.027,1)">Temperature</text>
<text x="1055.7" y="2659.9">(</text>
<text x="1074.7" y="2632.3" font-size="39">o</text>
<text x="1097.7" y="2660.1">C</text>
<text x="1143.7" y="2659.9">)</text>
<text transform="translate(872.0,3672.7) scale(1.025,1)">X–X (mm)</text>
<path d="M1858.5,3096.7H1945.5" stroke="#ff0000" stroke-width="7"/>
<path d="M1858.5,3189.6H1945.5" stroke="#5b9bd5" stroke-width="7"/>
<text x="1960.4" y="3115.9">Simulation</text>
<text x="1961" y="3209.6">Experiment</text>
</g>
<path d="M1187.5,72V96" stroke="#c6dcf4" stroke-width="1.5" fill="none"/>
<path d="M942,658 A24,24 0 0 1 990,658" stroke="#eeeeee" stroke-width="11" fill="none" filter="url(#bl2)"/>
</svg>
</body></html>
